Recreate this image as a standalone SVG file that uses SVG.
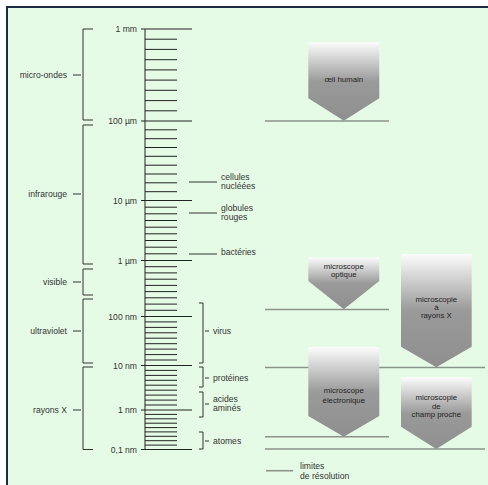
<svg xmlns="http://www.w3.org/2000/svg" width="488" height="485" viewBox="0 0 488 485">
<defs>
<linearGradient id="g" x1="0" y1="0" x2="0" y2="1">
<stop offset="0" stop-color="#fcfcfc"/>
<stop offset="0.5" stop-color="#9a9a9a"/>
<stop offset="1" stop-color="#8f8f8f"/>
</linearGradient>
<style>
text{font-family:"Liberation Sans",Arial,sans-serif;font-size:8.6px;fill:#333}
.e{text-anchor:end}
.m{text-anchor:middle;fill:#222;font-size:7.8px}
.k{stroke:#222;stroke-width:1;fill:none}
.b{stroke:#333;stroke-width:1;fill:none}
.lim{stroke:#8a948a;stroke-width:1.6;fill:none}
.sh{fill:url(#g)}
</style>
</defs>
<rect x="0" y="0" width="488" height="485" fill="#ffffff"/>
<rect x="8" y="8" width="480" height="477" fill="#e6fbe6"/>
<path d="M7,485 V7 H488" stroke="#1c2b44" stroke-width="2" fill="none"/>

<g id="scale">
<line class="k" x1="145" y1="29" x2="145" y2="450" stroke-width="1.6"/>
<path class="k" d="M141,29H192M141,121H192M141,200.5H192M141,260.5H192M141,316.5H192M141,365.5H192M141,410H192M141,449.5H192"/>
<path class="k" d="M145,39.2H177M145,49.4H177M145,59.7H177M145,69.9H177M145,80.1H177M145,90.3H177M145,100.6H177M145,110.8H177
M145,129.8H177M145,138.7H177M145,147.5H177M145,156.3H177M145,165.2H177M145,174H177M145,182.8H177M145,191.7H177
M145,207.2H177M145,213.8H177M145,220.5H177M145,227.2H177M145,233.8H177M145,240.5H177M145,247.2H177M145,253.8H177
M145,266.7H177M145,272.9H177M145,279.2H177M145,285.4H177M145,291.6H177M145,297.8H177M145,304.1H177M145,310.3H177
M145,321.9H177M145,327.4H177M145,332.8H177M145,338.2H177M145,343.7H177M145,349.1H177M145,354.6H177M145,360H177
M145,370.4H177M145,375.4H177M145,380.3H177M145,385.2H177M145,390.2H177M145,395.1H177M145,400.1H177M145,405H177
M145,414.4H177M145,418.8H177M145,423.2H177M145,427.6H177M145,431.9H177M145,436.3H177M145,440.7H177M145,445.1H177"/>
<text class="e" x="137" y="32">1 mm</text>
<text class="e" x="137" y="124">100 µm</text>
<text class="e" x="137" y="203.5">10 µm</text>
<text class="e" x="137" y="263.5">1 µm</text>
<text class="e" x="137" y="319.5">100 nm</text>
<text class="e" x="137" y="368.5">10 nm</text>
<text class="e" x="137" y="413">1 nm</text>
<text class="e" x="137" y="452.5">0,1 nm</text>
</g>

<g id="spectrum">
<path class="b" d="M93,29H83V120H93M73,75H81"/>
<text class="e" x="67" y="78">micro-ondes</text>
<path class="b" d="M93,125H83V264H93M73,194H81"/>
<text class="e" x="67" y="197">infrarouge</text>
<path class="b" d="M93,269H83V295H93M73,282H81"/>
<text class="e" x="67" y="285">visible</text>
<path class="b" d="M93,299H83V363H93M73,331H81"/>
<text class="e" x="67" y="334">ultraviolet</text>
<path class="b" d="M93,367H83V449.5H93M73,410H81"/>
<text class="e" x="67" y="413">rayons X</text>
</g>

<g id="objects">
<path class="b" d="M189,182H217M189,213H217M189,254H217"/>
<text x="221" y="180">cellules</text>
<text x="221" y="189">nucléées</text>
<text x="221" y="211">globules</text>
<text x="221" y="220">rouges</text>
<text x="221" y="255">bactéries</text>
<path class="b" d="M199,303H203V363H199M205,331H209"/>
<text x="213" y="334">virus</text>
<path class="b" d="M199,367H203V387H199M205,378H209"/>
<text x="213" y="381">protéines</text>
<path class="b" d="M199,392H203V417H199M205,404H209"/>
<text x="213" y="402">acides</text>
<text x="213" y="411">aminés</text>
<path class="b" d="M199,432H203V449H199M205,441H209"/>
<text x="213" y="444">atomes</text>
</g>

<g id="limits">
<path class="lim" d="M265,121H389M265,309.5H389M265,367.5H485M265,436.7H389M265,449H485"/>
</g>

<g id="oeil">
<path class="sh" d="M308.3,42.3H379.3V98.3L343.8,120.7L308.3,98.3Z"/>
<text class="m" x="343.8" y="82">œil humain</text>
</g>
<g id="optique">
<path class="sh" d="M308.3,257.5H379.3V281L343.8,309.3L308.3,281Z"/>
<text class="m" x="343.8" y="268.5">microscope</text>
<text class="m" x="343.8" y="277">optique</text>
</g>
<g id="rayonsx">
<path class="sh" d="M401,254H471.7V346.7L436.3,367.3L401,346.7Z"/>
<text class="m" x="436.3" y="301.5">microscopie</text>
<text class="m" x="436.3" y="309.5">à</text>
<text class="m" x="436.3" y="317.5">rayons X</text>
</g>
<g id="electronique">
<path class="sh" d="M308.3,347H379.3V416L343.8,436.7L308.3,416Z"/>
<text class="m" x="343.8" y="393">microscope</text>
<text class="m" x="343.8" y="403">électronique</text>
</g>
<g id="champ">
<path class="sh" d="M401,377.3H471.7V426.7L436.3,449L401,426.7Z"/>
<text class="m" x="436.3" y="400">microscopie</text>
<text class="m" x="436.3" y="408.5">de</text>
<text class="m" x="436.3" y="417">champ proche</text>
</g>
<g id="legend">
<path class="lim" d="M266,470.7H293"/>
<text x="300" y="468.5">limites</text>
<text x="300" y="478.5">de résolution</text>
</g>
</svg>
